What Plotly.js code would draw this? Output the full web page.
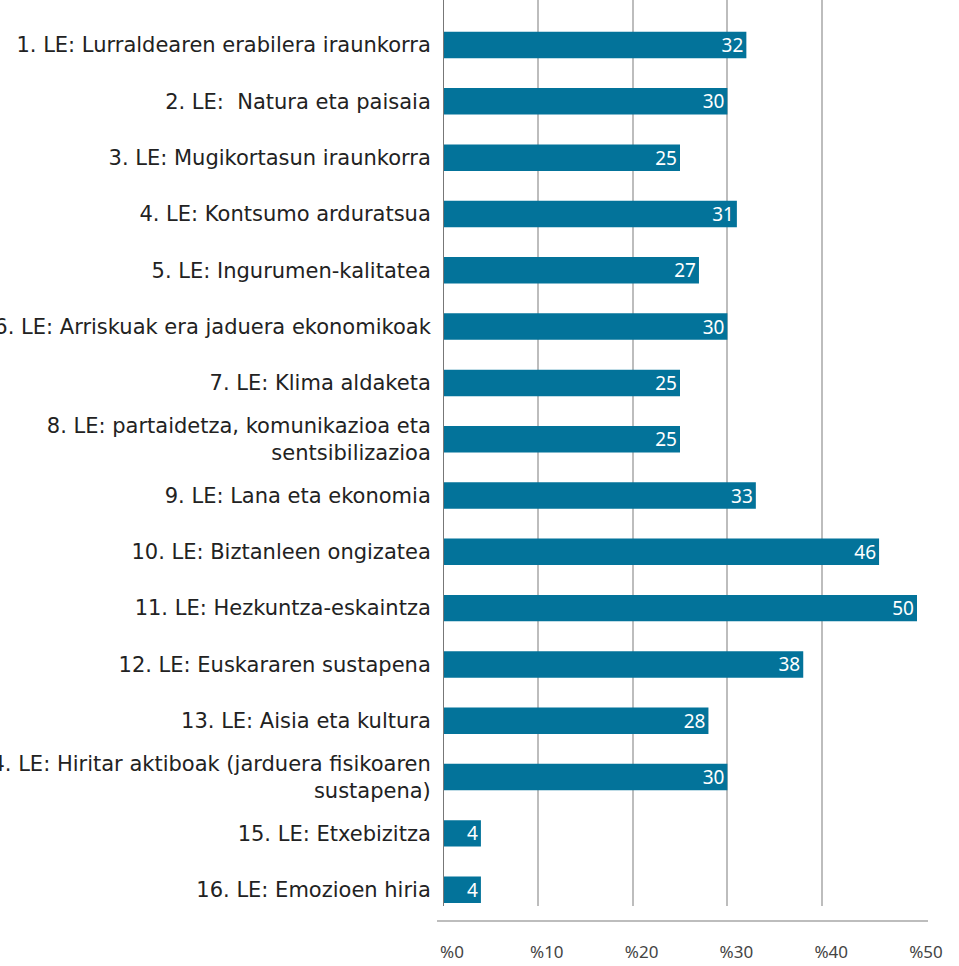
<!DOCTYPE html>
<html>
<head>
<meta charset="utf-8">
<script src="https://cdn.plot.ly/plotly-3.0.1.min.js"></script>
<style>html,body{margin:0;padding:0;background:#fff;} #chart{width:959px;height:966px;}</style>
</head>
<body>
<div id="chart"></div>
<script>
const categories = [
  "1. LE: Lurraldearen erabilera iraunkorra",
  "2. LE: \u00a0Natura eta paisaia",
  "3. LE: Mugikortasun iraunkorra",
  "4. LE: Kontsumo arduratsua",
  "5. LE: Ingurumen-kalitatea",
  "6. LE: Arriskuak era jaduera ekonomikoak",
  "7. LE: Klima aldaketa",
  "8. LE: partaidetza, komunikazioa eta<br>sentsibilizazioa",
  "9. LE: Lana eta ekonomia",
  "10. LE: Biztanleen ongizatea",
  "11. LE: Hezkuntza-eskaintza",
  "12. LE: Euskararen sustapena",
  "13. LE: Aisia eta kultura",
  "14. LE: Hiritar aktiboak (jarduera fisikoaren<br>sustapena)",
  "15. LE: Etxebizitza",
  "16. LE: Emozioen hiria"
];
const values = [32, 30, 25, 31, 27, 30, 25, 25, 33, 46, 50, 38, 28, 30, 4, 4];
const tickValues = [0, 10, 20, 30, 40, 50];
const tickLabels = ["%0", "%10", "%20", "%30", "%40", "%50"];

const FONT = "Noto Sans, Open Sans, sans-serif";
const LFONT = "DejaVu Sans, sans-serif";

const trace = {
  type: "bar",
  orientation: "h",
  x: values,
  y: categories,
  width: 0.47,
  marker: {color: "#03739a"},
  text: values.map(String),
  textposition: "inside",
  insidetextanchor: "end",
  textangle: 0,
  constraintext: "none",
  textfont: {color: "#ffffff", size: 19, family: FONT},
  hoverinfo: "x+y",
  cliponaxis: false
};

const plotL = 443, plotR = 917, plotB = 906;
const W = 959, H = 966;

const layout = {
  width: W, height: H,
  margin: {l: plotL, r: W - plotR, t: 0, b: H - plotB, pad: 0},
  paper_bgcolor: "#ffffff",
  plot_bgcolor: "#ffffff",
  showlegend: false,
  bargap: 0.5,
  font: {family: FONT, color: "#222222"},
  xaxis: {
    range: [0, 50],
    tickvals: tickValues,
    ticktext: tickLabels,
    showgrid: true,
    gridcolor: "#bdbdbd",
    gridwidth: 2,
    zeroline: false,
    showline: false,
    ticks: "outside",
    ticklen: 31,
    tickcolor: "rgba(0,0,0,0)",
    ticklabelshift: 9,
    tickfont: {size: 17, color: "#444444", family: FONT},
    fixedrange: true
  },
  yaxis: {
    type: "category",
    range: [15.29, -0.8],
    showgrid: false,
    zeroline: false,
    showline: false,
    ticks: "outside",
    ticklen: 7,
    tickcolor: "rgba(0,0,0,0)",
    tickfont: {size: 21, color: "#222222", family: LFONT},
    automargin: false,
    fixedrange: true
  },
  shapes: [
    {type: "line", xref: "x", yref: "paper", x0: 0, x1: 0, y0: 0, y1: 1,
     line: {color: "#777777", width: 2}, layer: "above"},
    {type: "line", xref: "paper", yref: "paper",
     x0: -6 / (plotR - plotL), x1: 1 + 11 / (plotR - plotL),
     y0: -15 / plotB, y1: -15 / plotB,
     line: {color: "#bdbdbd", width: 2}}
  ]
};

Plotly.newPlot("chart", [trace], layout, {displayModeBar: false, staticPlot: true});
</script>
</body>
</html>
